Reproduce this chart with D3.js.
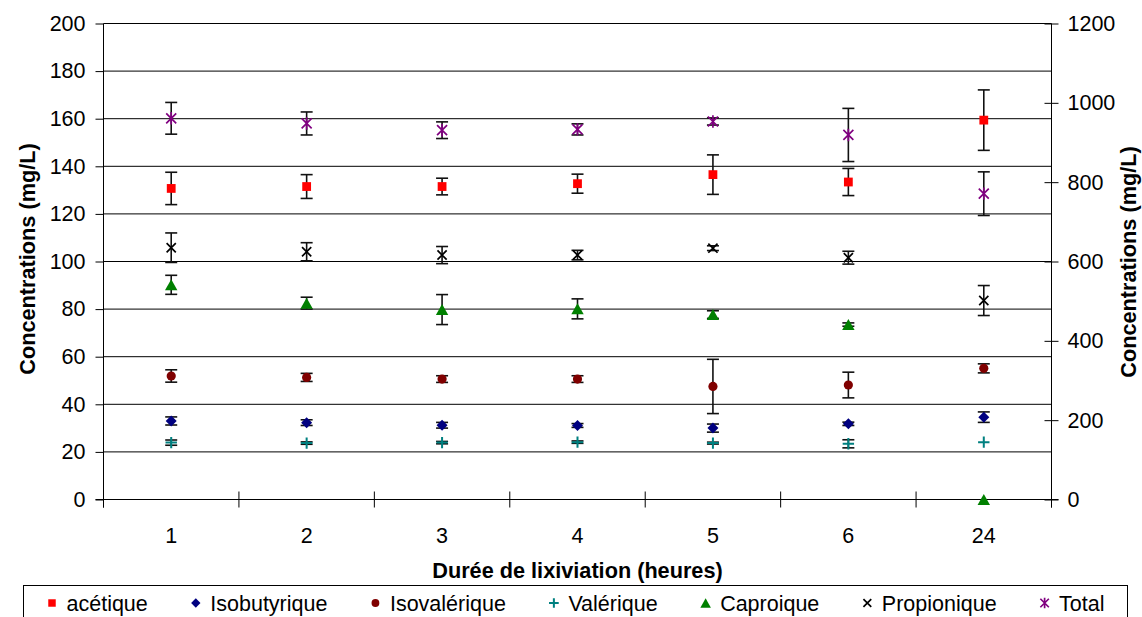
<!DOCTYPE html>
<html>
<head>
<meta charset="utf-8">
<script src="https://cdn.jsdelivr.net/npm/d3@7"></script>
<style>
  html, body { margin: 0; padding: 0; background: #fff; }
  svg { display: block; }
  text { font-family: "Liberation Sans", Arial, sans-serif; fill: #000; }
</style>
</head>
<body>
<svg id="chart" width="1142" height="617"></svg>
<script>
// ---------- DATA ----------
const categories = ["1", "2", "3", "4", "5", "6", "24"];
const leftTicks = [0, 20, 40, 60, 80, 100, 120, 140, 160, 180, 200];
const rightTicks = [0, 200, 400, 600, 800, 1000, 1200];

const acetique        = [130.7, 131.5, 131.5, 132.7, 136.5, 133.4, 159.4];
const acetiqueErr     = [6.8, 5.0, 3.5, 4.0, 8.3, 5.7, 12.7];
const isobutyrique    = [33.0, 32.3, 31.2, 31.1, 30.0, 31.8, 34.6];
const isobutyriqueErr = [1.7, 1.2, 1.2, 0.8, 1.7, 0.7, 2.2];
const isovalerique    = [51.9, 51.3, 50.6, 50.6, 47.5, 48.1, 55.1];
const isovaleriqueErr = [2.6, 1.7, 1.4, 1.4, 11.4, 5.4, 1.9];
const valerique       = [23.9, 23.7, 23.9, 24.1, 23.7, 23.4, 24.1];
const valeriqueErr    = [1.1, 0.5, 0.5, 0.5, 0.4, 1.7, 0];
const caproique       = [90.2, 82.5, 79.8, 80.1, 77.7, 73.5, 0];
const caproiqueErr    = [4.0, 2.5, 6.3, 4.2, 1.6, 0.7, 0];
const propionique     = [105.8, 104.1, 102.7, 102.7, 105.6, 101.6, 83.6];
const propioniqueErr  = [6.2, 3.8, 3.6, 2.0, 1.0, 2.7, 6.3];
const total           = [961, 948, 931, 933, 953, 919, 771];   // secondary axis
const totalErr        = [40, 29, 21, 14, 9, 67, 55];

const seriesNames = ["acétique", "Isobutyrique", "Isovalérique", "Valérique", "Caproique", "Propionique", "Total"];

// ---------- BUILD ----------
(function () {
const series = [
  {name: seriesNames[0], values: acetique,     err: acetiqueErr,     type: "square",   color: "#FF0000", axis: "L"},
  {name: seriesNames[1], values: isobutyrique, err: isobutyriqueErr, type: "diamond",  color: "#000080", axis: "L"},
  {name: seriesNames[2], values: isovalerique, err: isovaleriqueErr, type: "circle",   color: "#800000", axis: "L"},
  {name: seriesNames[3], values: valerique,    err: valeriqueErr,    type: "plus",     color: "#008080", axis: "L"},
  {name: seriesNames[4], values: caproique,    err: caproiqueErr,    type: "triangle", color: "#008000", axis: "L"},
  {name: seriesNames[5], values: propionique,  err: propioniqueErr,  type: "x",        color: "#000000", axis: "L"},
  {name: seriesNames[6], values: total,        err: totalErr,        type: "star",     color: "#800080", axis: "R"}
];

const svg = d3.select("#chart");
const pLeft = 103.5, pRight = 1051.5, pTop = 23.5, pBottom = 499.5;
const FS = 21.5;

const x = d3.scaleBand().domain(categories).range([pLeft, pRight]);
const yL = d3.scaleLinear().domain([0, 200]).range([pBottom, pTop]);
const yR = d3.scaleLinear().domain([0, 1200]).range([pBottom, pTop]);

// gridlines
svg.append("g").selectAll("line")
  .data(leftTicks.filter(d => d > 0))
  .join("line")
  .attr("x1", pLeft).attr("x2", pRight)
  .attr("y1", d => yL(d)).attr("y2", d => yL(d))
  .attr("stroke", "#000").attr("stroke-width", 1);

// left axis
const gL = svg.append("g").attr("transform", `translate(${pLeft},0)`)
  .call(d3.axisLeft(yL).tickValues(leftTicks).tickSize(8).tickPadding(10).tickFormat(d3.format("d")));
gL.select(".domain").remove();
gL.selectAll("line").attr("stroke", "#000");
gL.selectAll("text").style("font-size", FS + "px").style("font-family", '"Liberation Sans", Arial, sans-serif');
svg.append("line").attr("x1", pLeft).attr("x2", pLeft).attr("y1", pTop).attr("y2", pBottom + 8).attr("stroke", "#000");

// right axis
const gR = svg.append("g").attr("transform", `translate(${pRight},0)`)
  .call(d3.axisRight(yR).tickValues(rightTicks).tickSize(7).tickPadding(9).tickFormat(d3.format("d")));
gR.select(".domain").remove();
gR.selectAll(".tick line").attr("x1", -7).attr("stroke", "#000");
gR.selectAll("text").style("font-size", FS + "px").style("font-family", '"Liberation Sans", Arial, sans-serif');
svg.append("line").attr("x1", pRight).attr("x2", pRight).attr("y1", pTop).attr("y2", pBottom + 8).attr("stroke", "#000");

// x axis
const gX = svg.append("g").attr("transform", `translate(0,${pBottom})`)
  .call(d3.axisBottom(x).tickSize(0).tickPadding(28));
gX.select(".domain").remove();
gX.selectAll("text").style("font-size", FS + "px").style("font-family", '"Liberation Sans", Arial, sans-serif');
svg.append("line").attr("x1", pLeft - 8).attr("x2", pRight + 7).attr("y1", pBottom).attr("y2", pBottom).attr("stroke", "#000");
// boundary ticks
const bounds = categories.map(c => x(c)).concat([x(categories[categories.length - 1]) + x.bandwidth()]);
svg.append("g").selectAll("line").data(bounds).join("line")
  .attr("x1", d => d).attr("x2", d => d)
  .attr("y1", pBottom - 8).attr("y2", pBottom + 8)
  .attr("stroke", "#000");

// marker shapes
function markerPath(type, k) {
  const p = d3.path();
  switch (type) {
    case "square": { const s = 4.4 * k; p.rect(-s, -s, 2 * s, 2 * s); break; }
    case "diamond": { const s = 5.5 * k; p.moveTo(0, -s); p.lineTo(s, 0); p.lineTo(0, s); p.lineTo(-s, 0); p.closePath(); break; }
    case "circle": { const r = 4.6 * k; p.moveTo(r, 0); p.arc(0, 0, r, 0, 2 * Math.PI); break; }
    case "triangle": { const w = 6.2 * k, h = 5.5 * k; p.moveTo(0, -h); p.lineTo(w, h); p.lineTo(-w, h); p.closePath(); break; }
    case "plus": { const s = 5.7 * k; p.moveTo(-s, 0); p.lineTo(s, 0); p.moveTo(0, -s); p.lineTo(0, s); break; }
    case "x": { const s = 4.6 * k; p.moveTo(-s, -s); p.lineTo(s, s); p.moveTo(s, -s); p.lineTo(-s, s); break; }
    case "star": { const s = 5 * k, v = 6.2 * k; p.moveTo(-s, -s); p.lineTo(s, s); p.moveTo(s, -s); p.lineTo(-s, s); p.moveTo(0, -v); p.lineTo(0, v); break; }
  }
  return p.toString();
}
const isStroke = t => (t === "plus" || t === "x" || t === "star");
function styleMarker(sel, s) {
  if (isStroke(s.type)) {
    sel.attr("fill", "none").attr("stroke", s.color)
      .attr("stroke-width", s.type === "plus" ? 2 : 1.7);
  } else {
    sel.attr("fill", s.color).attr("stroke", "none");
  }
}

// series: error bars then markers
series.forEach(s => {
  const y = s.axis === "L" ? yL : yR;
  const pts = categories.map((c, i) => ({c, v: s.values[i], e: s.err[i]}));
  const g = svg.append("g");
  const eb = g.append("g").selectAll("g").data(pts.filter(d => d.e > 0)).join("g")
    .attr("transform", d => `translate(${x(d.c) + x.bandwidth() / 2},0)`);
  eb.append("line").attr("x1", 0).attr("x2", 0)
    .attr("y1", d => y(d.v - d.e)).attr("y2", d => y(d.v + d.e));
  eb.append("line").attr("x1", -6).attr("x2", 6)
    .attr("y1", d => y(d.v + d.e)).attr("y2", d => y(d.v + d.e));
  eb.append("line").attr("x1", -6).attr("x2", 6)
    .attr("y1", d => y(d.v - d.e)).attr("y2", d => y(d.v - d.e));
  eb.selectAll("line").attr("stroke", "#111").attr("stroke-width", 1.6);

  const m = g.append("g").selectAll("path").data(pts).join("path")
    .attr("transform", d => `translate(${x(d.c) + x.bandwidth() / 2},${y(d.v)})`)
    .attr("d", markerPath(s.type, 1));
  styleMarker(m, s);
});

// axis titles
svg.append("text")
  .attr("x", (pLeft + pRight) / 2).attr("y", 578)
  .attr("text-anchor", "middle")
  .style("font-size", "21.7px").style("font-weight", "bold")
  .text("Durée de lixiviation (heures)");
svg.append("text")
  .attr("transform", `translate(35,259) rotate(-90)`)
  .attr("text-anchor", "middle")
  .style("font-size", "21.7px").style("font-weight", "bold")
  .text("Concentrations (mg/L)");
svg.append("text")
  .attr("transform", `translate(1136,262) rotate(-90)`)
  .attr("text-anchor", "middle")
  .style("font-size", "21.7px").style("font-weight", "bold")
  .text("Concentrations (mg/L)");

// legend
svg.append("rect").attr("x", 23.5).attr("y", 585.5).attr("width", 1104).attr("height", 60)
  .attr("fill", "#fff").attr("stroke", "#000").attr("stroke-width", 1);
let lx = 52;
series.forEach(s => {
  const mk = svg.append("path")
    .attr("transform", `translate(${lx},603)`)
    .attr("d", markerPath(s.type, 0.85));
  styleMarker(mk, s);
  const t = svg.append("text").attr("x", lx + 14.5).attr("y", 611)
    .style("font-size", FS + "px").text(s.name);
  lx = lx + 14.5 + t.node().getComputedTextLength() + 48;
});
})();
</script>
</body>
</html>
